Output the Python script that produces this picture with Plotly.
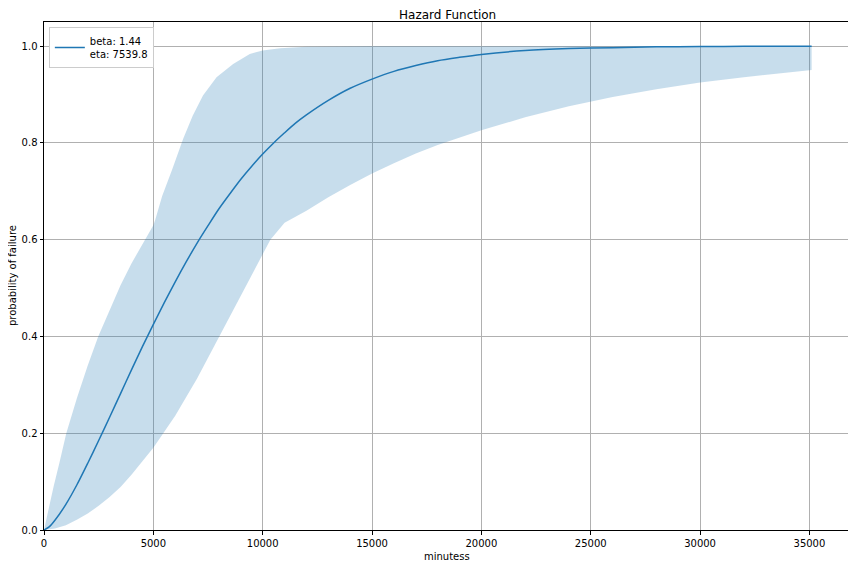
import plotly.graph_objects as go

# Fitted curve
t_line = [0, 250, 500, 1000, 1500, 2000, 2500, 3000, 3500, 4000, 4500, 5000, 5500, 6000,
          6500, 7000, 7500, 8000, 8500, 9000, 9500, 10000, 10500, 11000, 11500, 12000,
          13000, 14000, 15000, 16000, 17000, 18000, 19000, 20000, 22000, 24000, 26000,
          28000, 30000, 32000, 35100]
p_line = [0.0, 0.007, 0.020, 0.053, 0.093, 0.138, 0.185, 0.233, 0.282, 0.331, 0.379, 0.425,
          0.470, 0.513, 0.554, 0.593, 0.629, 0.664, 0.695, 0.725, 0.752, 0.777, 0.800, 0.821,
          0.841, 0.858, 0.888, 0.913, 0.932, 0.948, 0.960, 0.970, 0.977, 0.983, 0.991, 0.995,
          0.997, 0.9987, 0.9993, 0.9997, 0.9999]

# Upper confidence bound
t_upper = [0, 100, 250, 440, 700, 1020, 1500, 2000, 2480, 3000, 3500, 4000, 4620, 5000,
           5080, 5400, 5870, 6360, 6800, 7270, 7890, 8650, 9410, 10000, 10800, 12000,
           13500, 15000, 20000, 25000, 30000, 35100]
p_upper = [0.0, 0.022, 0.053, 0.090, 0.138, 0.200, 0.272, 0.340, 0.400, 0.456, 0.506, 0.551,
           0.600, 0.630, 0.640, 0.690, 0.746, 0.808, 0.856, 0.898, 0.936, 0.963, 0.984, 0.991,
           0.996, 0.999, 0.9995, 1.0, 1.0, 1.0, 1.0, 1.0]

# Lower confidence bound
t_lower = [0, 500, 1000, 1500, 2000, 2500, 3000, 3500, 4000, 4500, 5000, 5500, 6000, 7000,
           8000, 9000, 10000, 10350, 11000, 12000, 13000, 14000, 15000, 16000, 17000, 18000,
           20000, 22000, 24000, 26000, 28000, 30000, 32000, 34000, 35100]
p_lower = [0.0, 0.003, 0.010, 0.021, 0.034, 0.050, 0.068, 0.089, 0.114, 0.142, 0.170, 0.202,
           0.236, 0.313, 0.398, 0.484, 0.570, 0.600, 0.635, 0.660, 0.688, 0.713, 0.737, 0.758,
           0.778, 0.796, 0.826, 0.853, 0.876, 0.895, 0.911, 0.925, 0.936, 0.946, 0.951]

x_ticks = [0, 5000, 10000, 15000, 20000, 25000, 30000, 35000]
y_ticks = [0.0, 0.2, 0.4, 0.6, 0.8, 1.0]
legend_label = "beta: 1.44<br>eta: 7539.8"

# page body adds an 8px offset, so the figure is 848x560
W, H = 848, 560
L, R, T, B = 36, 6, 14, 38
PW, PH = W - L - R, H - T - B

fig = go.Figure()
fig.add_trace(go.Scatter(
    x=t_upper + t_lower[::-1], y=p_upper + p_lower[::-1],
    fill="toself", fillcolor="rgba(31,119,180,0.25)", line=dict(width=0),
    mode="lines", showlegend=False, hoverinfo="skip"))
fig.add_trace(go.Scatter(
    x=t_line, y=p_line, mode="lines", name=legend_label,
    line=dict(color="#1f77b4", width=1.5, shape="spline", smoothing=0.8)))

axis_common = dict(showline=True, linecolor="black", linewidth=1, mirror=True,
                   ticks="outside", ticklen=3.5, tickcolor="black", automargin=False,
                   showgrid=True, gridcolor="#b0b0b0", gridwidth=0.8, zeroline=False,
                   tickfont=dict(size=10, color="black"))

fig.update_layout(
    width=W, height=H,
    margin=dict(l=L, r=R, t=T, b=B, autoexpand=False),
    paper_bgcolor="white", plot_bgcolor="white",
    font=dict(family="DejaVu Sans", size=10, color="black"),
    xaxis=dict(range=[0, 36855], tickvals=x_ticks, ticktext=[str(v) for v in x_ticks],
               **axis_common),
    yaxis=dict(range=[0, 1.05], tickvals=y_ticks, ticktext=[f"{v:.1f}" for v in y_ticks],
               **axis_common),
    legend=dict(x=0.006, y=0.99, xanchor="left", yanchor="top", bgcolor="white",
                bordercolor="#cccccc", borderwidth=1, font=dict(size=10),
                itemwidth=30, valign="middle", tracegroupgap=0),
    annotations=[
        dict(text="Hazard Function", xref="paper", yref="paper", x=0.5,
             y=1 + 7 / PH, xanchor="center", yanchor="middle",
             showarrow=False, font=dict(size=12, color="black")),
        dict(text="minutess", xref="paper", yref="paper", x=0.5,
             y=-26 / PH, xanchor="center", yanchor="middle",
             showarrow=False, font=dict(size=10, color="black")),
        dict(text="probability of failure", xref="paper", yref="paper",
             x=-32 / PW, y=0.5, xanchor="center", yanchor="middle",
             textangle=-90, showarrow=False, font=dict(size=10, color="black")),
    ],
)

fig.write_html("out.html")
